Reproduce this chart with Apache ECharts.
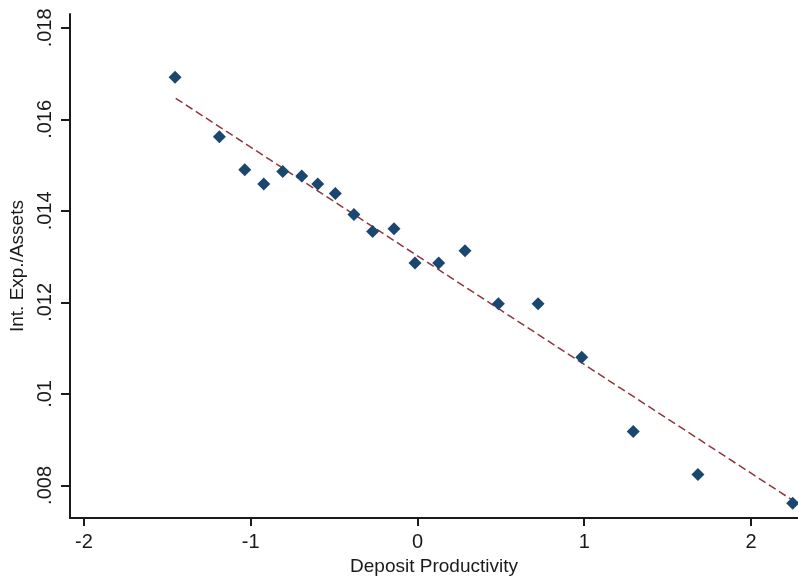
<!DOCTYPE html>
<html>
<head>
<meta charset="utf-8">
<script src="https://cdn.jsdelivr.net/npm/echarts@6/dist/echarts.min.js"></script>
<style>
  html, body { margin: 0; padding: 0; background: #fff; }
  #container { width: 798px; height: 581px; }
</style>
</head>
<body>
<div id="container"></div>
<script>
// binned scatter: deposit productivity vs interest expense / assets
var xValues = [-1.454, -1.188, -1.036, -0.922, -0.808, -0.694, -0.598, -0.493, -0.381, -0.269,
               -0.141, -0.015, 0.127, 0.285, 0.485, 0.723, 0.985, 1.294, 1.682, 2.250];
var yValues = [0.01692, 0.01562, 0.01490, 0.01459, 0.01486, 0.01476, 0.01459, 0.01438, 0.01392, 0.01355,
               0.01361, 0.01286, 0.01286, 0.01313, 0.01197, 0.01197, 0.01080, 0.00918, 0.00824, 0.00761];
// fitted line end points
var fitX = [-1.45, 2.252];
var fitY = [0.01646, 0.00767];

var xTicks = [-2, -1, 0, 1, 2];
var yTicks = [0.008, 0.010, 0.012, 0.014, 0.016, 0.018];

var dom = document.getElementById("container");
var myChart = echarts.init(dom);

var points = xValues.map(function (x, i) { return [x, yValues[i]]; });
var fitLine = fitX.map(function (x, i) { return [x, fitY[i]]; });

var font = "'Liberation Sans', Arial, sans-serif";
var ink = '#1a1a1a';

option = {
    backgroundColor: '#fff',
    animation: false,
    grid: { left: 70, right: 0, top: 14, bottom: 58 },
    xAxis: {
        type: 'value',
        min: -2.084,
        max: 2.282,
        name: 'Deposit Productivity',
        nameLocation: 'middle',
        nameGap: 34,
        nameTextStyle: { fontFamily: font, fontSize: 19, color: ink },
        axisLine: { onZero: false, lineStyle: { color: ink, width: 2 } },
        axisTick: { show: true, length: 8, lineStyle: { color: ink, width: 2 }, customValues: xTicks },
        axisLabel: {
            customValues: xTicks,
            margin: 14,
            fontFamily: font, fontSize: 20, color: ink,
            formatter: function (v) { return String(v); }
        },
        splitLine: { show: false }
    },
    yAxis: {
        type: 'value',
        min: 0.007286,
        max: 0.018303,
        name: 'Int. Exp./Assets',
        nameLocation: 'middle',
        nameGap: 41,
        nameTextStyle: { fontFamily: font, fontSize: 19, color: ink },
        axisLine: { show: true, onZero: false, lineStyle: { color: ink, width: 2 } },
        axisTick: { show: true, length: 9, lineStyle: { color: ink, width: 2 }, customValues: yTicks },
        axisLabel: {
            customValues: yTicks,
            rotate: 90,
            margin: 15,
            fontFamily: font, fontSize: 20, color: ink,
            formatter: function (v) { return String(+v.toFixed(3)).replace(/^0/, ''); }
        },
        splitLine: { show: false }
    },
    series: [
        {
            type: 'line',
            data: fitLine,
            symbol: 'none',
            z: 1,
            lineStyle: { color: '#90353b', width: 1.5, type: [8, 4] }
        },
        {
            type: 'scatter',
            data: points,
            symbol: 'diamond',
            symbolSize: 13,
            z: 2,
            itemStyle: { color: '#1a476f', opacity: 1 }
        }
    ]
};
myChart.setOption(option, true);
</script>
</body>
</html>
